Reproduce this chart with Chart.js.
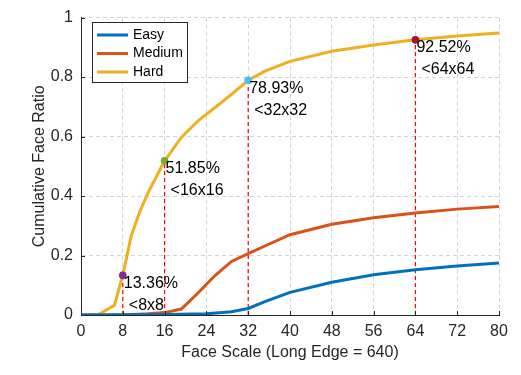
<!DOCTYPE html>
<html>
<head>
<meta charset="utf-8">
<script src="https://cdn.jsdelivr.net/npm/chart.js@4"></script>
<style>
  html, body { margin: 0; padding: 0; background: #fff; }
  #wrap { width: 521px; height: 375px; }
</style>
</head>
<body>
<div id="wrap"><canvas id="cdf" width="521" height="375"></canvas></div>
<script>
// data
const xTicks = [0, 8, 16, 24, 32, 40, 48, 56, 64, 72, 80];
const yTicks = [0, 0.2, 0.4, 0.6, 0.8, 1];

const easyX = [0, 16, 24, 28.8, 32, 35.2, 40, 48, 56, 64, 72, 80];
const easyY = [0, 0.002, 0.004, 0.011, 0.022, 0.045, 0.076, 0.11, 0.135, 0.152, 0.165, 0.175];

const mediumX = [0, 8, 12.8, 16, 19.2, 22.4, 25.6, 28.8, 32, 35.2, 40, 48, 56, 64, 72, 80];
const mediumY = [0, 0, 0.004, 0.008, 0.02, 0.074, 0.132, 0.18, 0.206, 0.232, 0.27, 0.305, 0.327, 0.343, 0.356, 0.365];

const hardX = [0, 3.2, 6.4, 8, 9.6, 11.2, 12.8, 16, 19.2, 22.4, 25.6, 28.8, 32, 35.2, 40, 48, 56, 64, 72, 80];
const hardY = [0, 0, 0.033, 0.1336, 0.265, 0.345, 0.41, 0.5185, 0.597, 0.653, 0.697, 0.742, 0.7893, 0.82, 0.853, 0.887, 0.908, 0.9252, 0.938, 0.948];

const markX = [8, 16, 32, 64];
const markY = [0.1336, 0.5185, 0.7893, 0.9252];
const markPct = ['13.36%', '51.85%', '78.93%', '92.52%'];
const markSize = ['<8x8', '<16x16', '<32x32', '<64x64'];
const markColors = ['#7E2F8E', '#77AC30', '#4DBEEE', '#A2142F'];

const FONT = 'Liberation Sans, Arial, sans-serif';
const pts = (xs, ys) => xs.map((x, i) => ({ x: x, y: ys[i] }));

const series = [
  { label: 'Easy', x: easyX, y: easyY, color: '#0072BD' },
  { label: 'Medium', x: mediumX, y: mediumY, color: '#D95319' },
  { label: 'Hard', x: hardX, y: hardY, color: '#EDB120' }
];

const datasets = [];
// red dashed guide lines
markX.forEach((mx, i) => {
  datasets.push({
    type: 'line',
    data: [{ x: mx, y: 0 }, { x: mx, y: markY[i] }],
    borderColor: '#ff0000',
    borderWidth: 1.2,
    borderDash: [4, 3],
    pointRadius: 0,
    order: 5
  });
});
series.forEach(s => {
  datasets.push({
    type: 'line',
    label: s.label,
    data: pts(s.x, s.y),
    borderColor: s.color,
    borderWidth: 3,
    pointRadius: 0,
    tension: 0,
    order: 2
  });
});
datasets.push({
  type: 'scatter',
  data: pts(markX, markY),
  backgroundColor: markColors,
  borderColor: markColors,
  pointRadius: 3.5,
  order: 0
});

const extras = {
  id: 'extras',
  afterDraw(chart) {
    const ctx = chart.ctx;
    const xs = chart.scales.x, ys = chart.scales.y;
    const a = chart.chartArea;
    ctx.save();
    // inward tick marks
    ctx.strokeStyle = '#262626';
    ctx.lineWidth = 1;
    xTicks.forEach(t => {
      const px = Math.round(xs.getPixelForValue(t)) + 0.5;
      ctx.beginPath(); ctx.moveTo(px, a.bottom); ctx.lineTo(px, a.bottom - 4); ctx.stroke();
    });
    yTicks.forEach(t => {
      const py = Math.round(ys.getPixelForValue(t)) + 0.5;
      ctx.beginPath(); ctx.moveTo(a.left, py); ctx.lineTo(a.left + 4, py); ctx.stroke();
    });
    // annotations
    ctx.fillStyle = '#000';
    ctx.font = '16px ' + FONT;
    ctx.textBaseline = 'middle';
    ctx.textAlign = 'left';
    markX.forEach((mx, i) => {
      const px = xs.getPixelForValue(mx);
      const py = ys.getPixelForValue(markY[i]);
      ctx.fillText(markPct[i], px + 1, py + 8);
      ctx.fillText(markSize[i], px + 6, py + 30);
    });
    // legend box
    ctx.font = '14px ' + FONT;
    const lx = 92, ly = 22, lw = 95, lh = 60;
    ctx.fillStyle = '#fff';
    ctx.fillRect(lx, ly, lw, lh);
    ctx.strokeStyle = '#262626';
    ctx.strokeRect(lx + 0.5, ly + 0.5, lw, lh);
    series.forEach((s, i) => {
      const yy = ly + 13 + i * 18.5;
      ctx.strokeStyle = s.color;
      ctx.lineWidth = 3;
      ctx.beginPath(); ctx.moveTo(lx + 5, yy); ctx.lineTo(lx + 36, yy); ctx.stroke();
      ctx.fillStyle = '#000';
      ctx.fillText(s.label, lx + 41, yy);
    });
    ctx.restore();
  }
};

new Chart(document.getElementById('cdf'), {
  type: 'line',
  data: { datasets: datasets },
  options: {
    responsive: false,
    animation: false,
    layout: { padding: { top: 14, right: 22, left: 0, bottom: 0 } },
    plugins: { legend: { display: false }, tooltip: { enabled: false } },
    scales: {
      x: {
        type: 'linear',
        min: 0, max: 80,
        afterBuildTicks: s => { s.ticks = xTicks.map(v => ({ value: v })); },
        afterFit: s => { s.height = 60; },
        ticks: { color: '#262626', font: { family: FONT, size: 16 }, padding: 7, maxRotation: 0,
                 callback: v => String(v) },
        grid: { color: '#d4d4d4', drawTicks: false, tickLength: 0 },
        border: { display: true, color: '#262626', width: 1, dash: [4, 3] },
        title: { display: true, text: 'Face Scale (Long Edge = 640)', color: '#262626',
                 font: { family: FONT, size: 16 }, padding: { top: 0, bottom: 13 } }
      },
      y: {
        type: 'linear',
        min: 0, max: 1,
        afterBuildTicks: s => { s.ticks = yTicks.map(v => ({ value: v })); },
        afterFit: s => { s.width = 81; },
        ticks: { color: '#262626', font: { family: FONT, size: 16 }, padding: 8,
                 callback: v => String(Math.round(v * 10) / 10) },
        grid: { color: '#d4d4d4', drawTicks: false, tickLength: 0 },
        border: { display: true, color: '#262626', width: 1, dash: [4, 3] },
        title: { display: true, text: 'Cumulative Face Ratio', color: '#262626',
                 font: { family: FONT, size: 16 }, padding: { top: 30, bottom: 0 } }
      }
    }
  },
  plugins: [extras]
});
</script>
</body>
</html>
